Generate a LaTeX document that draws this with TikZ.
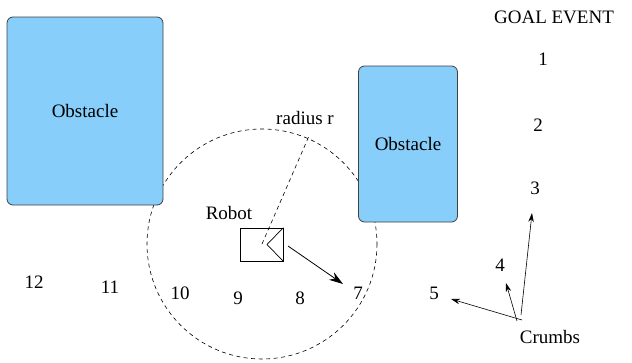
\documentclass[tikz,border=0pt]{standalone}
\usepackage{fontspec}
\setmainfont{Liberation Serif}
\usetikzlibrary{arrows.meta}
\definecolor{obstblue}{HTML}{87CEFA}
\begin{document}
\begin{tikzpicture}[x=1pt,y=-1pt,
  obstacle/.style={draw=black!75,fill=obstblue,rounded corners=6pt,line width=0.8pt},
  lbl/.style={inner sep=0pt,font=\fontsize{19}{22}\selectfont},
  dashline/.style={dash pattern=on 4pt off 3.5pt,line width=0.6pt},
  crumb/.style={-{Stealth[length=9pt,width=5.5pt]},line width=0.6pt}]
\useasboundingbox (0,0) rectangle (632,362);
% sensing range of the robot
\coordinate (c) at (262,244);
\draw[dashline] (c) circle[radius=115];
\coordinate (rim) at (309,136);
\draw[dashline] (c) -- (rim);
\node[lbl] (rad) at (305,118) {radius r};
% obstacles
\node[obstacle,minimum width=156pt,minimum height=188pt] (obs1) at (85,111) {};
\node[lbl] at (obs1) {Obstacle};
\node[obstacle,minimum width=99pt,minimum height=156pt] (obs2) at (408,144) {};
\node[lbl] at (obs2) {Obstacle};
% robot body
\node[draw,line width=0.7pt,minimum width=43pt,minimum height=33pt,inner sep=0pt] (rob) at (261.5,244.5) {};
\draw[line width=0.7pt] (rob.north east) -- (267,244.5) -- (rob.south east);
\node[lbl] (roblbl) at (229,213) {Robot};
% numbered cells
\node[lbl] (g) at (554,17) {GOAL EVENT};
\node[lbl] (n1) at (543,59) {1};
\node[lbl] (n2) at (538,125) {2};
\node[lbl] (n3) at (535,188) {3};
\node[lbl] (n4) at (500,265) {4};
\node[lbl] (n5) at (434,293) {5};
\node[lbl] (n7) at (358,293) {7};
\node[lbl] (n8) at (300,298) {8};
\node[lbl] (n9) at (238,298) {9};
\node[lbl] (n10) at (180,293) {10};
\node[lbl] (n11) at (110,287) {11};
\node[lbl] (n12) at (34,282) {12};
\node[lbl] (cr) at (550,337) {Crumbs};
% heading of the robot
\draw[-{Stealth[length=14pt,width=9pt]},line width=0.8pt] (288,246) -- (343,284);
% crumb pointers
\draw[crumb] (522,320) -- (451,299);
\draw[crumb] (517,321) -- (506,283);
\draw[crumb] (521,315) -- (532,213);
\end{tikzpicture}
\end{document}
